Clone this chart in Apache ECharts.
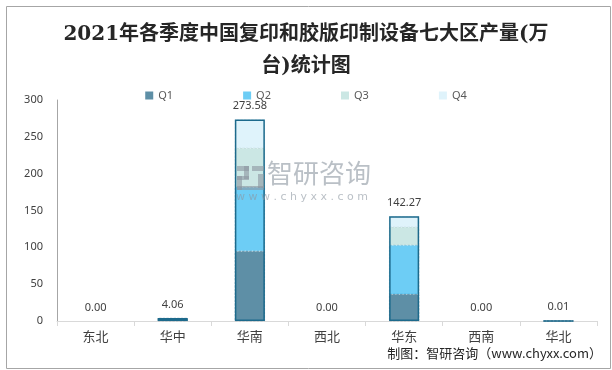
<!DOCTYPE html>
<html>
<head>
<meta charset="utf-8">
<script src="https://cdn.jsdelivr.net/npm/echarts@6/dist/echarts.min.js"></script>
<style>
html,body{margin:0;padding:0;background:#fff;}
#main{width:612px;height:370px;}
</style>
</head>
<body>
<div id="main"></div>
<script>
const categories = ['东北', '华中', '华南', '西北', '华东', '西南', '华北'];
const seriesNames = ['Q1', 'Q2', 'Q3', 'Q4'];
const q1 = [0, 4.06, 94.9, 0, 36.4, 0, 0.01];
const q2 = [0, 0, 86.7, 0, 66.6, 0, 0];
const q3 = [0, 0, 53.1, 0, 24.5, 0, 0];
const q4 = [0, 0, 38.88, 0, 14.77, 0, 0];
const totals = [0.00, 4.06, 273.58, 0.00, 142.27, 0.00, 0.01];
const yTicks = [0, 50, 100, 150, 200, 250, 300];

const colors = ['#5e8fa6', '#6dcdf5', '#cbe7e4', '#dff3fb'];
const sepColors = ['#3f7088', '#4fb4de', '#a9cfcc', '#c4e3ef'];
const qData = [q1, q2, q3, q4];

const chart = echarts.init(document.getElementById('main'), null, {renderer: 'canvas'});

const series = qData.map((d, i) => ({
  name: seriesNames[i],
  type: 'bar',
  stack: 'total',
  barWidth: 30,
  data: d.map(v => ({value: v, itemStyle: v === 0 ? {borderWidth: 0} : {}})),
  itemStyle: {color: colors[i], borderColor: sepColors[i], borderWidth: 0.6, borderType: 'dashed'},
  emphasis: {disabled: true}
}));
series.push({
  name: '合计',
  type: 'bar',
  barWidth: 30,
  barGap: '-100%',
  z: 5,
  data: totals.map(v => ({value: v, itemStyle: v === 0 ? {borderWidth: 0} : {}})),
  itemStyle: {color: 'rgba(0,0,0,0)', borderColor: '#1d6a8c', borderWidth: 1.5},
  label: {
    show: true, position: 'top', distance: 8,
    color: '#404040', fontSize: 11, fontFamily: 'Noto Sans, sans-serif',
    formatter: p => Number(p.value).toFixed(2)
  },
  emphasis: {disabled: true}
});

const wmColor = 'rgba(140,150,160,0.6)';
function wmRect(x, y, w, h) {
  return {type: 'rect', silent: true, z: 100, shape: {x: x, y: y, width: w, height: h}, style: {fill: wmColor}};
}
chart.setOption({
  animation: false,
  backgroundColor: '#fff',
  title: {
    text: '2021年各季度中国复印和胶版印制设备七大区产量(万\n台)统计图',
    left: 'center', top: 14,
    textStyle: {fontSize: 20, fontWeight: 'bold', color: '#262626', lineHeight: 32,
      fontFamily: "'DejaVu Serif', 'Noto Sans CJK SC', serif"}
  },
  legend: {
    data: seriesNames, top: 85, left: 'center',
    itemWidth: 8, itemHeight: 8, itemGap: 70,
    icon: 'rect',
    itemStyle: {borderWidth: 0},
    textStyle: {fontSize: 11, color: '#595959', fontFamily: 'Noto Sans, sans-serif'}
  },
  grid: {left: 57, right: 15, top: 100, bottom: 49, containLabel: false},
  xAxis: {
    type: 'category', data: categories,
    axisLine: {lineStyle: {color: '#d9d9d9', width: 1}},
    axisTick: {show: true, alignWithLabel: false, length: 5, lineStyle: {color: '#d9d9d9'}},
    axisLabel: {color: '#404040', fontSize: 13, margin: 9, fontFamily: "'Noto Sans CJK SC', sans-serif"}
  },
  yAxis: {
    type: 'value', min: yTicks[0], max: yTicks[yTicks.length - 1], interval: 50,
    axisLine: {show: true, lineStyle: {color: '#a6a6a6'}},
    axisTick: {show: false},
    splitLine: {show: false},
    axisLabel: {color: '#404040', fontSize: 11, margin: 14, fontFamily: 'Noto Sans, sans-serif'}
  },
  graphic: [
    {type: 'rect', left: 4, top: 4, shape: {width: 604, height: 362},
     style: {fill: 'none', stroke: '#a6a6a6', lineWidth: 1}, silent: true, z: -1},
    wmRect(237, 166, 12, 5),
    wmRect(244, 166, 5, 13),
    wmRect(237, 176, 12, 4),
    wmRect(237, 176, 5, 14),
    wmRect(237, 186, 27, 4),
    wmRect(252, 166, 12, 5),
    wmRect(258, 174, 6, 14),
    {type: 'text', left: 267, top: 160, silent: true, z: 100,
     style: {text: '智研咨询', fill: wmColor, fontSize: 26, fontFamily: "'Noto Sans CJK SC', sans-serif", letterSpacing: 2}},
    {type: 'text', left: 236, top: 192, silent: true, z: 100,
     style: {text: 'w w w . c h y x x . c o m', fill: wmColor, fontSize: 11, fontFamily: 'DejaVu Sans, sans-serif', letterSpacing: 1.5}},
    {type: 'text', right: 10, top: 347, silent: true,
     style: {text: '制图：智研咨询（www.chyxx.com）', fill: '#262626', fontSize: 13, fontFamily: "'Noto Sans CJK SC', 'DejaVu Sans Mono', monospace"}}
  ],
  series: series
});
</script>
</body>
</html>
